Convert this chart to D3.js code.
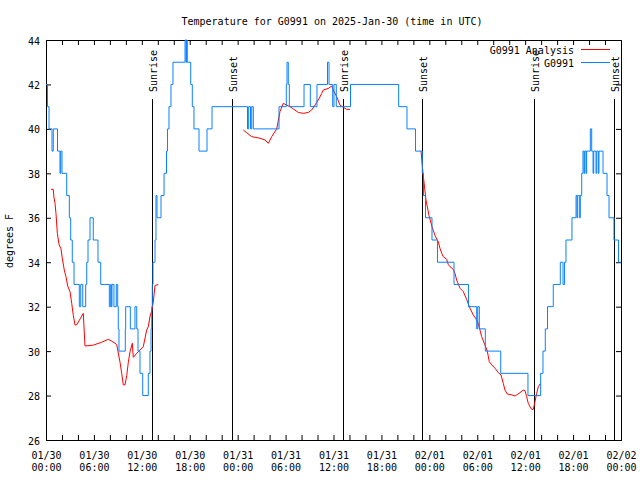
<!DOCTYPE html>
<html>
<head>
<meta charset="utf-8">
<script src="https://cdn.jsdelivr.net/npm/d3@7"></script>
<style>
  html, body { margin: 0; padding: 0; background: #fff; }
  svg { display: block; }
  text { font-family: "DejaVu Sans Mono", "Liberation Mono", monospace; font-size: 10px; fill: #000; }
</style>
</head>
<body>
<div id="chart"></div>
<script>
// ---- data (hours since 2025-01-30 00:00 UTC) ----
const titleText = "Temperature for G0991 on 2025-Jan-30 (time in UTC)";
const yLabel = "degrees F";
const seriesNames = ["G0991 Analysis", "G0991"];
const yTicks = [26, 28, 30, 32, 34, 36, 38, 40, 42, 44];

const eventHours = [13.24, 23.25, 37.23, 47.12, 61.14, 71.16];
const eventLabels = ["Sunrise", "Sunset", "Sunrise", "Sunset", "Sunrise", "Sunset"];

// observed (G0991) – step values
const obsHours = [0, 0.19, 0.38, 0.75, 0.91, 1.44, 1.75, 1.84, 2.00, 2.59, 2.92, 3.09, 3.29, 3.51,
  4.17, 4.35, 4.60, 4.97, 5.10, 5.26, 5.51, 5.92, 6.51, 6.85, 7.93, 8.10, 8.18, 8.26, 8.51, 8.80,
  8.98, 9.05, 9.14, 9.93, 9.98, 10.56, 11.14, 11.36, 11.52, 11.77, 12.11, 12.81, 13.02, 13.15, 13.24,
  13.31, 13.40, 13.65, 13.77, 13.90, 14.40, 14.78, 15.09, 15.21, 15.40, 15.65, 15.90, 17.41, 17.53,
  17.59, 17.69, 18.12, 18.32, 18.53, 19.16, 20.16, 20.79, 25.23, 25.38, 25.61, 25.76, 25.96, 29.18,
  30.09, 30.18, 30.34, 30.47, 32.31, 33.10, 33.93, 35.25, 35.44, 35.90, 36.06, 36.35, 38.13, 44.16,
  45.20, 46.27, 47.12, 47.27, 47.52, 48.33, 49.02, 51.09, 52.90, 53.93, 54.06, 54.26, 55.01, 56.94,
  60.35, 61.94, 62.23, 62.52, 62.80, 63.52, 64.40, 64.74, 64.93, 65.11, 65.86, 66.37, 66.49, 66.58,
  66.83, 66.90, 67.08, 67.24, 67.37, 67.45, 67.62, 67.70, 68.16, 68.33, 68.50, 68.58, 68.87, 68.96,
  69.16, 69.24, 69.75, 70.25, 70.50, 71.12, 71.69, 72.0];
const obsTemps = [42, 41, 40, 39, 40, 39, 38, 39, 38, 37, 36, 35, 34, 33,
  32, 33, 32, 33, 34, 35, 36, 35, 34, 33, 32, 33, 32, 33, 32, 33,
  32, 31, 30, 31, 32, 31, 32, 31, 30, 29, 28, 29, 30, 31, 32,
  33, 34, 35, 37, 36, 37, 38, 39, 40, 41, 42, 43, 44, 43,
  44, 43, 42, 41, 40, 39, 40, 41, 40, 41, 40, 41, 40, 41,
  42, 43, 42, 41, 42, 41, 42, 43, 42, 41, 42, 41, 42, 41,
  40, 39, 38, 37, 36, 35, 34, 33, 32, 31, 32, 31, 30, 29,
  28, 29, 30, 31, 32, 33, 34, 33, 34, 35, 36, 37, 36, 37,
  36, 37, 38, 39, 38, 39, 38, 39, 40, 39, 38, 39, 38, 39,
  38, 39, 38, 37, 36, 35, 34, 34];

// analysis (G0991 Analysis) – three segments
const anaHours1 = [0.63, 0.91, 1.00, 1.13, 1.25, 1.42, 1.63, 1.88, 2.04, 2.29, 2.50, 2.72, 3.01, 3.22,
  3.42, 3.63, 3.84, 4.67, 4.88, 5.92, 6.97, 7.80, 8.23, 8.85, 9.27, 9.48, 9.68, 9.89, 10.11, 10.31,
  10.52, 10.81, 10.93, 11.36, 11.77, 12.18, 12.61, 12.81, 13.02, 13.27, 13.46, 13.65, 14.06];
const anaTemps1 = [37.28, 37.28, 36.9, 36.65, 36.2, 35.3, 34.8, 34.6, 34.18, 33.65, 33.35, 32.93, 32.67, 32.15,
  31.6, 31.18, 31.18, 31.7, 30.23, 30.27, 30.4, 30.53, 30.45, 30.3, 29.5, 29.0, 28.48, 28.48, 28.9, 29.5,
  29.97, 30.35, 29.72, 29.9, 30.05, 30.2, 30.95, 31.1, 31.55, 31.85, 32.3, 32.95, 33.0];
const anaHours2 = [24.71, 25.13, 25.76, 26.80, 27.42, 27.84, 28.26, 28.89, 29.30, 29.71, 30.14, 30.55,
  30.97, 31.59, 32.22, 32.84, 33.27, 33.68, 34.22, 34.52, 34.72, 35.35, 35.77, 35.97, 36.40, 36.81,
  37.23, 37.65, 38.07];
const anaTemps2 = [39.95, 39.83, 39.65, 39.58, 39.5, 39.35, 39.65, 40.0, 40.78, 41.15, 41.07, 41.0,
  40.9, 40.74, 40.7, 40.74, 40.85, 41.07, 41.38, 41.6, 41.75, 41.82, 41.93, 41.75, 41.45, 41.07,
  40.97, 40.88, 40.88];
const anaHours3 = [46.96, 47.21, 47.58, 47.96, 48.33, 48.71, 49.12, 49.33, 49.55, 49.75, 50.17, 50.37,
  50.59, 51.00, 51.21, 51.42, 51.84, 52.25, 52.67, 53.09, 53.50, 53.84, 54.13, 54.55, 54.96, 55.26,
  55.51, 55.81, 56.22, 56.64, 56.97, 57.26, 57.47, 57.76, 58.31, 58.73, 58.94, 59.35, 59.77, 59.98,
  60.19, 60.39, 60.60, 60.81, 61.02, 61.23, 61.44, 61.65, 61.92];
const anaTemps3 = [39.0, 38.0, 36.8, 36.1, 35.6, 35.2, 34.92, 34.63, 34.4, 34.25, 34.13, 33.9,
  33.8, 33.68, 33.5, 33.2, 32.83, 32.68, 32.33, 31.93, 31.63, 31.45, 31.25, 30.65, 30.28, 30.0,
  29.52, 29.38, 29.23, 29.03, 28.93, 28.55, 28.25, 28.07, 28.03, 27.98, 28.03, 28.13, 28.25, 28.22,
  27.95, 27.65, 27.5, 27.38, 27.38, 27.73, 28.1, 28.4, 28.55];

// ---- drawing ----
const W = 640, H = 480;
const L = 46, R = 621, T = 40, B = 440;
const START = Date.UTC(2025, 0, 30);
const toDate = h => new Date(START + h * 3600e3);

const svg = d3.select("#chart").append("svg").attr("width", W).attr("height", H);

const x = d3.scaleUtc().domain([toDate(0), toDate(72)]).range([L, R]);
const y = d3.scaleLinear().domain([26, 44]).range([B, T]);

const xTickVals = d3.utcHour.every(2).range(toDate(0), toDate(72.01));

// bottom axis
const gx = svg.append("g").attr("transform", `translate(0,${B})`)
  .call(d3.axisBottom(x).tickValues(xTickVals).tickSizeInner(-5).tickSizeOuter(0).tickFormat(""));
gx.select(".domain").remove();
gx.selectAll(".tick line").attr("stroke", "#000");
const fmtD = d3.utcFormat("%m/%d"), fmtT = d3.utcFormat("%H:%M");
gx.selectAll(".tick").each(function(d) {
  if (d.getUTCHours() % 6 !== 0) return;
  const t = d3.select(this).select("text").attr("y", null).attr("dy", null)
    .attr("font-size", 10).attr("fill", "#000");
  t.append("tspan").attr("x", 0).attr("y", 19).text(fmtD(d));
  t.append("tspan").attr("x", 0).attr("y", 31).text(fmtT(d));
});

// top axis (ticks only)
const gt = svg.append("g").attr("transform", `translate(0,${T})`)
  .call(d3.axisTop(x).tickValues(xTickVals).tickSizeInner(-5).tickSizeOuter(0).tickFormat(""));
gt.select(".domain").remove();
gt.selectAll(".tick line").attr("stroke", "#000");

// left axis
const gy = svg.append("g").attr("transform", `translate(${L},0)`)
  .call(d3.axisLeft(y).tickValues(yTicks).tickSizeInner(-5).tickSizeOuter(0).tickPadding(6));
gy.select(".domain").remove();
gy.selectAll(".tick line").attr("stroke", "#000");
gy.selectAll(".tick text").attr("font-size", 10).attr("fill", "#000").attr("dy", "0.4em");

// right axis (ticks only)
const gr = svg.append("g").attr("transform", `translate(${R},0)`)
  .call(d3.axisRight(y).tickValues(yTicks).tickSizeInner(-5).tickSizeOuter(0).tickFormat(""));
gr.select(".domain").remove();
gr.selectAll(".tick line").attr("stroke", "#000");

svg.selectAll(".tick text").attr("font-family", "DejaVu Sans Mono, monospace");

// border
svg.append("rect").attr("x", L + 0.5).attr("y", T + 0.5).attr("width", R - L).attr("height", B - T)
  .attr("fill", "none").attr("stroke", "#000").attr("stroke-width", 1);

// event lines
const events = eventHours.map((h, i) => ({ t: toDate(h), label: eventLabels[i] }));
const ev = svg.append("g").selectAll("g").data(events).join("g");
ev.append("line")
  .attr("x1", d => Math.round(x(d.t)) + 0.5).attr("x2", d => Math.round(x(d.t)) + 0.5)
  .attr("y1", 99).attr("y2", B).attr("stroke", "#000").attr("stroke-width", 1);
ev.append("text")
  .attr("transform", d => `translate(${Math.round(x(d.t)) + 4.5},92) rotate(-90)`)
  .attr("text-anchor", "start").text(d => d.label);

// analysis (red)
const ana = [
  anaHours1.map((h, i) => ({ t: toDate(h), v: anaTemps1[i] })),
  anaHours2.map((h, i) => ({ t: toDate(h), v: anaTemps2[i] })),
  anaHours3.map((h, i) => ({ t: toDate(h), v: anaTemps3[i] }))
];
const lineA = d3.line().x(d => x(d.t)).y(d => y(d.v));
svg.append("g").selectAll("path").data(ana).join("path")
  .attr("d", lineA).attr("fill", "none").attr("stroke", "#ff0000").attr("stroke-width", 1);

// observed (blue)
const obs = obsHours.map((h, i) => ({ t: toDate(h), v: obsTemps[i] }));
const lineO = d3.line().x(d => x(d.t)).y(d => y(d.v)).curve(d3.curveStepAfter);
svg.append("path").datum(obs).attr("d", lineO).attr("fill", "none")
  .attr("stroke", "#0a80ff").attr("stroke-width", 1);

// title
svg.append("text").attr("x", 332).attr("y", 25).attr("text-anchor", "middle").text(titleText);

// y label
svg.append("text").attr("transform", "translate(13,241) rotate(-90)")
  .attr("text-anchor", "middle").text(yLabel);

// legend
const legColors = ["#ff0000", "#0a80ff"];
const leg = svg.append("g").selectAll("g").data(seriesNames).join("g")
  .attr("transform", (d, i) => `translate(0,${50 + i * 13})`);
leg.append("text").attr("x", 574).attr("y", 4).attr("text-anchor", "end").text(d => d);
leg.append("line").attr("x1", 581).attr("x2", 610).attr("y1", -0.5).attr("y2", -0.5)
  .attr("stroke", (d, i) => legColors[i]).attr("stroke-width", 1);
</script>
</body>
</html>
